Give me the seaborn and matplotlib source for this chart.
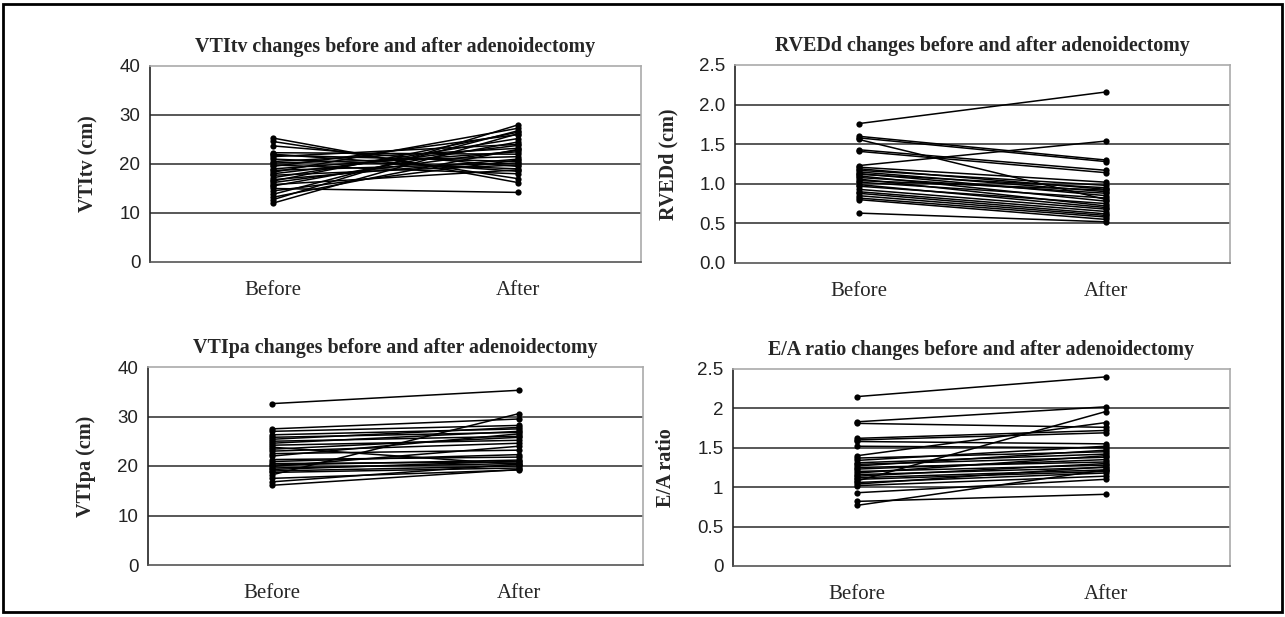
#!/usr/bin/env python
"""
Paired before/after measurements around adenoidectomy, one line per child.
"""
import matplotlib

matplotlib.use("Agg")
import matplotlib.pyplot as plt
import pandas as pd
import seaborn as sns
from matplotlib.patches import Rectangle

TIMES = ["Before", "After"]

VTITV_BEFORE = [25.3, 24.6, 23.7, 22.3, 22.0, 21.8, 21.5, 21.0, 20.5, 20.2,
                19.8, 19.5, 19.0, 18.7, 18.3, 18.0, 17.7, 17.2, 16.8, 16.5,
                16.2, 15.8, 15.5, 15.0, 14.5, 13.8, 13.2, 12.7, 12.0]
VTITV_AFTER = [16.2, 17.0, 19.5, 22.0, 18.5, 20.5, 24.0, 19.0, 23.2, 21.5,
               18.0, 26.0, 22.5, 20.2, 27.3, 23.8, 19.8, 25.2, 21.0, 26.5,
               22.8, 18.8, 24.5, 14.2, 20.8, 26.8, 23.0, 28.0, 26.2]

RVEDD_BEFORE = [1.76, 1.60, 1.58, 1.56, 1.43, 1.41, 1.23, 1.21, 1.19, 1.17,
                1.15, 1.13, 1.12, 1.10, 1.08, 1.06, 1.04, 1.02, 0.99, 0.97,
                0.93, 0.90, 0.88, 0.85, 0.82, 0.80, 0.63]
RVEDD_AFTER = [2.16, 1.30, 1.28, 0.80, 1.17, 1.14, 1.54, 1.02, 0.93, 0.98,
               0.90, 0.85, 0.95, 0.78, 0.88, 0.72, 0.92, 0.82, 0.70, 0.75,
               0.68, 0.65, 0.62, 0.60, 0.58, 0.55, 0.52]

VTIPA_BEFORE = [32.6, 27.5, 27.0, 26.3, 25.8, 25.4, 25.0, 24.6, 24.2, 23.8,
                23.4, 23.0, 22.5, 22.0, 21.3, 20.9, 20.5, 20.2, 19.9, 19.6,
                19.3, 19.0, 18.7, 18.2, 17.5, 16.8, 16.1]
VTIPA_AFTER = [35.3, 29.5, 28.2, 27.5, 26.8, 27.8, 26.0, 27.0, 25.2, 20.3,
               25.8, 24.6, 23.2, 26.5, 21.8, 22.3, 20.8, 21.2, 24.0, 20.5,
               21.0, 20.0, 19.6, 30.6, 19.2, 20.4, 19.3]

EA_BEFORE = [2.15, 1.83, 1.81, 1.62, 1.60, 1.58, 1.52, 1.40, 1.37, 1.34,
             1.31, 1.29, 1.27, 1.25, 1.23, 1.20, 1.18, 1.16, 1.14, 1.12,
             1.10, 1.08, 1.06, 1.04, 1.02, 0.93, 0.82, 0.77]
EA_AFTER = [2.40, 2.02, 1.76, 1.72, 1.69, 1.55, 1.50, 1.82, 1.45, 1.52,
            1.42, 1.38, 1.47, 1.32, 1.35, 1.28, 1.40, 1.25, 1.30, 1.22,
            1.20, 1.96, 1.18, 1.26, 1.14, 1.10, 0.91, 1.22]

SERIF = "Liberation Serif"
SANS = "Liberation Sans"


def to_long(before, after):
    rows = []
    for i, (b, a) in enumerate(zip(before, after)):
        rows.append([i, TIMES[0], b])
        rows.append([i, TIMES[1], a])
    return pd.DataFrame(rows, columns=["subject", "time", "value"])


def paired_panel(fig, rect, before, after, title, ylabel, yticks, ylabels):
    ax = fig.add_axes(rect)
    data = to_long(before, after)
    sns.lineplot(
        data=data,
        x="time",
        y="value",
        units="subject",
        estimator=None,
        color="black",
        linewidth=1.1,
        marker="o",
        markersize=4.5,
        markeredgewidth=0,
        ax=ax,
    )
    ax.set_xlim(-0.5, 1.5)
    ax.set_ylim(yticks[0], yticks[-1])
    ax.set_yticks(yticks)
    ax.set_yticklabels(ylabels, fontsize=13.5, family=SANS, color="#222222")
    for y in yticks[1:-1]:
        ax.axhline(y, color="#2a2a2a", linewidth=1.1, zorder=0)

    ax.set_xticks([0, 1])
    ax.set_xticklabels(TIMES, fontsize=15, family=SERIF)
    ax.set_xticks([-0.5, 0.5, 1.5], minor=True)
    ax.tick_params(axis="x", which="major", direction="in", length=6, color="#555555", pad=14)
    ax.tick_params(axis="x", which="minor", direction="out", length=7, color="#333333")
    ax.tick_params(axis="y", direction="out", length=5, color="#333333", pad=2)

    ax.set_title(title, fontsize=14.4, family=SERIF, fontweight="bold", pad=10)
    ax.set_ylabel(ylabel, fontsize=14.5, family=SERIF, fontweight="bold", labelpad=15)
    ax.set_xlabel("")

    ax.spines["left"].set_color("#222222")
    ax.spines["bottom"].set_color("#555555")
    ax.spines["top"].set_color("#aaaaaa")
    ax.spines["right"].set_color("#aaaaaa")
    for side in ["left", "bottom", "top", "right"]:
        ax.spines[side].set_linewidth(1.2)
    return ax


def main():
    sns.set_style("white")
    w, h = 1285, 617
    fig = plt.figure(figsize=(w / 100, h / 100), dpi=100)

    def rect(left, right, top, bottom):
        return [left / w, 1 - bottom / h, (right - left) / w, (bottom - top) / h]

    paired_panel(
        fig, rect(150, 641, 66, 262), VTITV_BEFORE, VTITV_AFTER,
        "VTItv changes before and after adenoidectomy", "VTItv (cm)",
        [0, 10, 20, 30, 40], ["0", "10", "20", "30", "40"],
    )
    paired_panel(
        fig, rect(735, 1230, 65, 263), RVEDD_BEFORE, RVEDD_AFTER,
        "RVEDd changes before and after adenoidectomy", "RVEDd (cm)",
        [0, 0.5, 1.0, 1.5, 2.0, 2.5], ["0.0", "0.5", "1.0", "1.5", "2.0", "2.5"],
    )
    paired_panel(
        fig, rect(148, 643, 367, 565), VTIPA_BEFORE, VTIPA_AFTER,
        "VTIpa changes before and after adenoidectomy", "VTIpa (cm)",
        [0, 10, 20, 30, 40], ["0", "10", "20", "30", "40"],
    )
    paired_panel(
        fig, rect(733, 1230, 369, 566), EA_BEFORE, EA_AFTER,
        "E/A ratio changes before and after adenoidectomy", "E/A ratio",
        [0, 0.5, 1.0, 1.5, 2.0, 2.5], ["0", "0.5", "1", "1.5", "2", "2.5"],
    )

    # black frame round the whole figure
    fig.patches.append(
        Rectangle((3 / w, 1 - 612 / h), 1279 / w, 608 / h, transform=fig.transFigure,
                  fill=False, edgecolor="black", linewidth=2)
    )
    fig.savefig("out.png", dpi=100)


main()
